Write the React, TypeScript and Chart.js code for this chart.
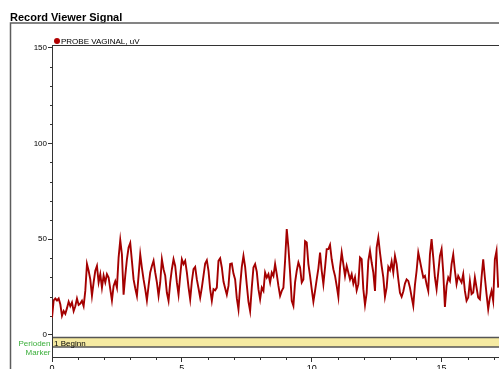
import React, { useEffect, useRef } from "react";
import { Chart, registerables } from "chart.js";

Chart.register(...registerables);

const TITLE = "Record Viewer Signal";
const SERIES_LABEL = "PROBE VAGINAL, uV";
const MARKER_LABEL = "1 Beginn";
const MARKER_AXIS_LABELS = ["Perioden", "Marker"];
const SAMPLE_INTERVAL_S = 0.0641;
const Y_TICKS = [0, 50, 100, 150];
const X_TICKS = [0, 5, 10, 15];
const Y_MINOR_STEP = 10;
const X_TICK_STEP = 5;
const X_MAX = 17.21;
const Y_MIN = -11.5;
const Y_MAX = 151.3;

const SIGNAL_UV = [
  9, 18, 19, 18, 19, 16, 10, 12.5, 11, 14,
  17.4, 15, 17, 12.5, 15, 19, 15.7, 16.4, 17.8, 15,
  23, 37, 33.5, 29, 20.4, 27.4, 33.5, 36, 27.4, 31.7,
  24.7, 31, 27.4, 31.7, 30, 23.9, 18, 25.6, 28, 24.7,
  40.4, 49.5, 42, 21, 31, 39.5, 45.6, 48, 38.7, 29,
  24.4, 20.4, 31, 42, 35, 29, 23.9, 18, 25.6, 32.6,
  36, 38.7, 32.6, 27.4, 20.4, 27.4, 39.5, 34.3, 31, 22,
  17.8, 27.4, 34.3, 39.5, 36, 27.4, 21, 31, 39.5, 37,
  38.7, 32.6, 25, 18.6, 27.9, 34.3, 35.5, 29, 24.4, 19.5,
  24.7, 31, 37.3, 39, 33.5, 23.9, 17.8, 23.9, 23.3, 24.7,
  38.7, 40, 35.2, 27.9, 24.4, 21, 25.6, 37, 37.3, 32,
  29, 19.2, 13.4, 25.6, 35.5, 41.3, 35.5, 26.1, 17.4, 12.5,
  24.7, 35.2, 37, 33, 23.9, 18.6, 24.7, 23, 32.6, 30,
  31.7, 27.4, 32.6, 30.8, 37, 31.7, 25.6, 20.4, 23, 24.7,
  38.7, 55.2, 45.6, 32.6, 17.8, 15.2, 27.4, 33.5, 37.8, 35.2,
  27.4, 29, 49, 48.3, 37, 30.8, 23.9, 17.4, 23, 29,
  34.8, 43, 33.5, 26.5, 35.2, 44.8, 44.8, 47, 39.5, 34.3,
  30.8, 25.6, 19.9, 35.2, 43, 37, 30.8, 36, 32.6, 29,
  31.7, 26.8, 30, 23.3, 26.5, 40.4, 39.5, 23.9, 15.7, 22,
  38.7, 43.9, 37.8, 32.6, 23, 45.6, 50.9, 43, 36, 30,
  19.9, 24.7, 35.5, 33.8, 38.3, 32.6, 41.3, 37, 29, 22,
  19.9, 22.7, 26.8, 29, 28.2, 24.7, 19.9, 15.2, 26.1, 33.5,
  43, 38.7, 34.3, 30, 30.8, 26.5, 23, 42, 50, 40.4,
  30, 23.9, 32.6, 41.3, 44.8, 32.6, 14.6, 25.6, 30, 28.2,
  37, 42, 33.5, 26.5, 30.8, 29, 27.4, 31.7, 23, 17.8,
  19.5, 28.2, 21.3, 22.1, 30, 24.7, 19.5, 18.6, 30, 39.5,
  30, 21.3, 13.4, 19.5, 23, 17.8, 39.5, 43.9, 24.7,
];

const LINE_COLOR = "#a40000";
const FONT = "'Liberation Sans', Arial, sans-serif";

const decorPlugin = {
  id: "decor",
  beforeDraw(chart: any) {
    const { ctx, width, height, chartArea } = chart;
    ctx.save();
    ctx.fillStyle = "#ffffff";
    ctx.fillRect(0, 0, width, height);

    // title
    ctx.fillStyle = "#000000";
    ctx.font = `bold 11px ${FONT}`;
    ctx.textAlign = "left";
    ctx.textBaseline = "alphabetic";
    ctx.fillText(TITLE, 10, 20.5);

    // frame
    ctx.strokeStyle = "#5c5c5c";
    ctx.lineWidth = 1.5;
    ctx.beginPath();
    ctx.moveTo(10.5, height);
    ctx.lineTo(10.5, 23);
    ctx.lineTo(width, 23);
    ctx.stroke();

    // legend
    ctx.fillStyle = "#b00000";
    ctx.beginPath();
    ctx.arc(57, 41, 3, 0, Math.PI * 2);
    ctx.fill();
    ctx.fillStyle = "#000000";
    ctx.font = `8px ${FONT}`;
    ctx.fillText(SERIES_LABEL, 61, 44);

    // top border of plot
    ctx.strokeStyle = "#333333";
    ctx.lineWidth = 1;
    ctx.beginPath();
    ctx.moveTo(chartArea.left, chartArea.top + 0.5);
    ctx.lineTo(chartArea.right, chartArea.top + 0.5);
    ctx.stroke();

    // marker band
    const bandTop = 337.5;
    const bandBottom = 347;
    ctx.fillStyle = "#f6eba2";
    ctx.fillRect(chartArea.left, bandTop, chartArea.right - chartArea.left, bandBottom - bandTop);
    ctx.strokeStyle = "#555555";
    ctx.lineWidth = 1.5;
    ctx.beginPath();
    ctx.moveTo(chartArea.left, bandTop);
    ctx.lineTo(chartArea.right, bandTop);
    ctx.moveTo(chartArea.left, bandBottom);
    ctx.lineTo(chartArea.right, bandBottom);
    ctx.stroke();
    ctx.fillStyle = "#000000";
    ctx.font = `8px ${FONT}`;
    ctx.fillText(MARKER_LABEL, chartArea.left + 2, 345.5);
    ctx.fillStyle = "#3aae3a";
    ctx.textAlign = "right";
    ctx.fillText(MARKER_AXIS_LABELS[0], 50.5, 345.5);
    ctx.fillText(MARKER_AXIS_LABELS[1], 50.5, 354.5);

    // minor ticks
    const yScale = chart.scales.y;
    const xScale = chart.scales.x;
    ctx.strokeStyle = "#333333";
    ctx.lineWidth = 1;
    ctx.beginPath();
    for (let v = 0; v <= 150; v += Y_MINOR_STEP) {
      if (v % 50 === 0) continue;
      const py = Math.round(yScale.getPixelForValue(v)) + 0.5;
      ctx.moveTo(chartArea.left - 2, py);
      ctx.lineTo(chartArea.left, py);
    }
    for (let v = 1; v <= Math.floor(X_MAX); v++) {
      if (v % X_TICK_STEP === 0) continue;
      const px = Math.round(xScale.getPixelForValue(v)) + 0.5;
      ctx.moveTo(px, chartArea.bottom);
      ctx.lineTo(px, chartArea.bottom + 3);
    }
    ctx.stroke();
    ctx.restore();
  },
};

export default function App() {
  const canvasRef = useRef<HTMLCanvasElement | null>(null);

  useEffect(() => {
    const canvas = canvasRef.current;
    if (!canvas) return;
    const points = SIGNAL_UV.map((v, i) => ({ x: i * SAMPLE_INTERVAL_S, y: v }));
    const chart = new Chart(canvas, {
      type: "line",
      data: {
        datasets: [
          {
            label: SERIES_LABEL,
            data: points,
            borderColor: LINE_COLOR,
            borderWidth: 1.9,
            pointRadius: 0,
            tension: 0,
            fill: false,
          },
        ],
      },
      options: {
        animation: false,
        responsive: false,
        events: [],
        layout: { padding: { top: 45, left: 0, right: 0, bottom: 0 } },
        plugins: { legend: { display: false }, tooltip: { enabled: false }, title: { display: false } },
        scales: {
          x: {
            type: "linear",
            position: "bottom",
            min: 0,
            max: X_MAX,
            afterBuildTicks: (s: any) => {
              s.ticks = X_TICKS.map((v) => ({ value: v }));
            },
            afterFit: (s: any) => {
              s.height = 12;
            },
            ticks: {
              autoSkip: false,
              maxRotation: 0,
              padding: 1,
              color: "#000000",
              font: { size: 9, family: FONT },
            },
            grid: { drawOnChartArea: false, tickLength: 5, color: "#333333" },
            border: { color: "#333333" },
          },
          y: {
            type: "linear",
            position: "left",
            min: Y_MIN,
            max: Y_MAX,
            afterBuildTicks: (s: any) => {
              s.ticks = Y_TICKS.map((v) => ({ value: v }));
            },
            afterFit: (s: any) => {
              s.width = 52;
            },
            ticks: {
              padding: 1,
              color: "#000000",
              font: { size: 8, family: FONT },
            },
            grid: { drawOnChartArea: false, tickLength: 4, color: "#333333" },
            border: { color: "#333333" },
          },
        },
      },
      plugins: [decorPlugin],
    });
    return () => chart.destroy();
  }, []);

  return (
    <div style={{ position: "fixed", left: 0, top: 0, width: 499, height: 369 }}>
      <canvas ref={canvasRef} width={499} height={369} style={{ display: "block" }} />
    </div>
  );
}
